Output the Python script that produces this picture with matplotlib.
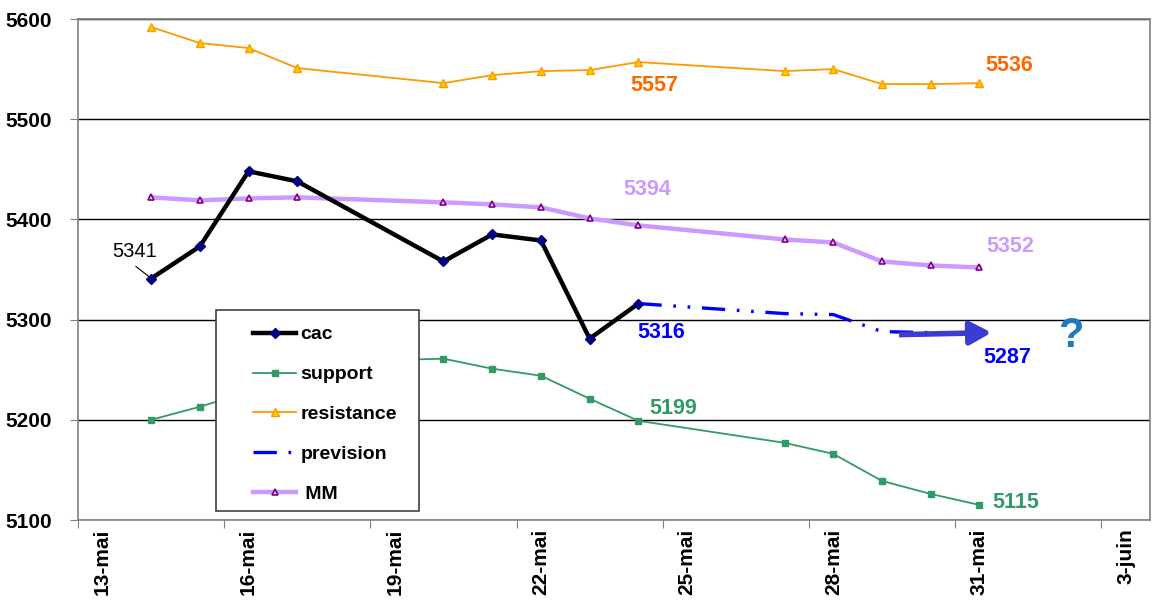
import matplotlib
matplotlib.use('Agg')
import matplotlib.pyplot as plt
from matplotlib.patches import Rectangle

plt.rcParams['font.family'] = ['Liberation Sans', 'DejaVu Sans']

# days of May (32 = 1-juin, 34 = 3-juin)
days = [14, 15, 16, 17, 20, 21, 22, 23, 24, 27, 28, 29, 30, 31]
cac_days = [14, 15, 16, 17, 20, 21, 22, 23, 24]
cac = [5341, 5373, 5448, 5438, 5358, 5385, 5379, 5281, 5316]
support = [5200, 5213, 5228, 5257, 5261, 5251, 5244, 5221, 5199,
           5177, 5166, 5139, 5126, 5115]
resistance = [5592, 5576, 5571, 5551, 5536, 5544, 5548, 5549, 5557,
              5548, 5550, 5535, 5535, 5536]
mm = [5422, 5419, 5421, 5422, 5417, 5415, 5412, 5401, 5394,
      5380, 5377, 5358, 5354, 5352]
prev_days = [24, 27, 28, 29, 30]
prevision = [5316, 5306, 5305, 5288, 5287]

tick_days = [13, 16, 19, 22, 25, 28, 31, 34]
tick_labels = ['13-mai', '16-mai', '19-mai', '22-mai', '25-mai',
               '28-mai', '31-mai', '3-juin']


def centre(ds):
    # points sit in the middle of each day
    return [d + 0.5 for d in ds]


fig = plt.figure(figsize=(11.53, 6.01), dpi=100)
ax = fig.add_axes([78 / 1153, 1 - 520 / 601, 1072 / 1153, 501 / 601])

ax.set_xlim(13, 35)
ax.set_ylim(5100, 5600)
ax.set_yticks([5100, 5200, 5300, 5400, 5500, 5600])
ax.yaxis.grid(True, color='black', lw=1)
ax.set_axisbelow(True)

ax.set_xticks(tick_days)
ax.set_xticklabels([])
ax.set_xticks(centre(tick_days), minor=True)
ax.set_xticklabels(tick_labels, minor=True, rotation=90, fontsize=15,
                   fontweight='bold', va='top')
ax.tick_params(axis='x', which='minor', length=0, pad=6)
ax.tick_params(axis='x', which='major', length=6, color='#808080')
ax.tick_params(axis='y', length=6, color='#808080', pad=13)
for lab in ax.get_yticklabels():
    lab.set_fontsize(15)
    lab.set_fontweight('bold')
for sp in ax.spines.values():
    sp.set_color('#808080')
    sp.set_linewidth(1.2)

l_cac, = ax.plot(centre(cac_days), cac, color='black', lw=3.2,
                 marker='D', ms=5.5, mfc='#000080', mec='#000080',
                 label='cac', zorder=4)
l_sup, = ax.plot(centre(days), support, color='#339966', lw=1.3,
                 marker='s', ms=4.5, mfc='#339966', mec='#339966',
                 label='support', zorder=3)
l_res, = ax.plot(centre(days), resistance, color='#ff9900', lw=1.3,
                 marker='^', ms=6, mfc='#ffcc00', mec='#ff9900',
                 label='resistance', zorder=3)
l_prev, = ax.plot(centre(prev_days), prevision, color='#0000ff', lw=2.4,
                  ls=(0, (7, 3.5, 0.8, 3.5, 0.8, 3.5)), label='prevision',
                  zorder=3)
l_mm, = ax.plot(centre(days), mm, color='#cc99ff', lw=3.2,
                marker='^', ms=5, mfc='#e6ccff', mec='#800080', mew=1.2,
                label=' MM', zorder=3)

# arrow for the forecast
ax.annotate('', xy=(31.75, 5287), xytext=(29.85, 5285),
            arrowprops=dict(arrowstyle='-|>,head_length=1.3,head_width=0.7',
                            color='#3c3cd2', lw=4, shrinkA=0, shrinkB=0,
                            capstyle='butt'),
            zorder=4)

# value labels
bold = dict(fontsize=15.5, fontweight='bold', ha='center', va='center')
ax.text(24.82, 5534, '5557', color='#ff6600', **bold)
ax.text(32.10, 5554, '5536', color='#ff6600', **bold)
ax.text(24.68, 5430, '5394', color='#cc99ff', **bold)
ax.text(32.14, 5373, '5352', color='#cc99ff', **bold)
ax.text(24.97, 5287, '5316', color='#0000ff', **bold)
ax.text(32.08, 5262, '5287', color='#0000ff', **bold)
ax.text(25.21, 5211, '5199', color='#339966', **bold)
ax.text(32.24, 5117, '5115', color='#339966', **bold)
ax.text(33.37, 5284, '?', color='#1f7ac0', fontsize=30,
        fontweight='bold', ha='center', va='center')
ax.text(14.17, 5368, '5341', color='black', fontsize=14.5,
        ha='center', va='center')
ax.plot([14.19, 14.48], [5353, 5342], color='black', lw=0.8)

# legend box drawn by hand, legend itself without frame
fig.patches.append(Rectangle((216 / 1153, 1 - 511 / 601), 203 / 1153,
                             201 / 601, transform=fig.transFigure,
                             facecolor='white', edgecolor='#404040',
                             lw=1.2, zorder=4.5))
leg = fig.legend(handles=[l_cac, l_sup, l_res, l_prev, l_mm],
                 loc='upper left', bbox_to_anchor=(243 / 1153, 1 - 316 / 601),
                 frameon=False, borderpad=0,
                 prop={'weight': 'bold', 'size': 14},
                 handlelength=2.25, handletextpad=0.2, labelspacing=1.15)
leg.set_zorder(5)

fig.savefig('out.png', dpi=100)
